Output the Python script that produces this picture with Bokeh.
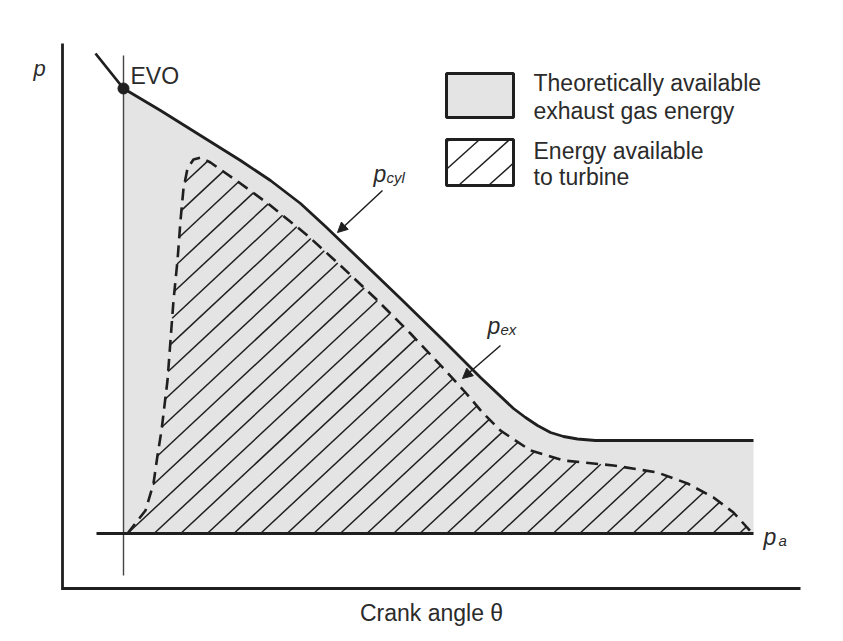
import numpy as np
from bokeh.plotting import figure
from bokeh.models import Range1d, Arrow, NormalHead
from bokeh.core.properties import value
from bokeh.embed import file_html
from bokeh.resources import INLINE

# ---------------- data (schematic, arbitrary units) ----------------
# crank angle theta (x) and pressure p (y)
theta_cyl = [33, 61, 98, 138, 178, 208, 238, 263, 288, 338, 381, 418, 451, 463, 475, 488, 501, 515, 533, 691]
p_cyl     = [535, 500, 478, 453, 428, 408, 385, 362, 338, 290, 248, 211, 180, 171, 163, 156, 152, 149.5, 148, 148]

theta_ex = [65, 83, 91, 95, 99, 102, 105, 108, 111, 115, 118, 121, 125, 131, 138, 148, 178, 208,
            245, 278, 313, 348, 383, 403, 420, 438, 468, 501, 551, 595, 625, 651, 671, 690]
p_ex     = [55, 78, 105, 133, 158, 183, 208, 248, 288, 328, 368, 400, 420, 429, 431, 426, 405, 383,
            353, 323, 290, 255, 218, 196, 176, 158, 138, 128, 123, 116, 105, 91, 76, 55]

theta_evo, p_evo = 61, 500          # exhaust valve opening
p_a = 55                            # ambient pressure level
theta_a_start, theta_a_end = 34, 691
theta_evo_line = [13, 533]          # extent of EVO marker line (p)
axis_x = [0, 0, 738]
axis_y = [545, 0, 0]

legend_labels = [["Theoretically available", "exhaust gas energy"],
                 ["Energy available", "to turbine"]]

INK = "#1f1f1f"
TXT = "#2b2b2b"
GRAY = "#e4e4e4"
FONT = value("Liberation Sans")
FS = "23px"


def hatch_segments(px, py, angle_deg, spacing, x_ref, y_ref):
    a = np.radians(angle_deg)
    d = np.array([np.cos(a), np.sin(a)])
    n = np.array([np.sin(a), -np.cos(a)])
    P = np.column_stack([px, py]).astype(float)
    Q = np.roll(P, -1, axis=0)
    s1, s2 = P @ n, Q @ n
    s_ref = n @ np.array([x_ref, y_ref], dtype=float)
    xs, ys = [], []
    for k in range(-80, 80):
        c = s_ref + k * spacing * n[0]
        m = (s1 - c) * (s2 - c) < 0
        if not m.any():
            continue
        t = (c - s1[m]) / (s2[m] - s1[m])
        pts = P[m] + t[:, None] * (Q[m] - P[m])
        pts = pts[np.argsort(pts @ d)]
        for i in range(0, len(pts) - 1, 2):
            xs.append([pts[i, 0], pts[i + 1, 0]])
            ys.append([pts[i, 1], pts[i + 1, 1]])
    return xs, ys


p = figure(width=843, height=641, x_range=Range1d(-62, 781), y_range=Range1d(-53, 588),
           x_axis_type=None, y_axis_type=None, toolbar_location=None,
           output_backend="svg", min_border=0, outline_line_color=None,
           background_fill_color="white", border_fill_color="white")
p.grid.visible = False

# gray area: theoretically available exhaust energy
gx = theta_cyl[1:] + [theta_a_end, theta_evo]
gy = p_cyl[1:] + [p_a, p_a]
p.patch(gx, gy, fill_color=GRAY, line_color=None)

# hatched area: energy available to turbine
hx, hy = hatch_segments(theta_ex, p_ex, 43, 26.6, theta_ex[0], p_a)
p.multi_line(hx, hy, line_color=INK, line_width=1.5)

# pressure curves
p.line(theta_ex, p_ex, line_color=INK, line_width=2.6, line_dash="12 7")
p.line(theta_cyl, p_cyl, line_color=INK, line_width=2.8, line_join="round")

# EVO marker line, ambient line and axes
p.line([theta_evo, theta_evo], theta_evo_line, line_color="#444444", line_width=1.4)
p.line([theta_a_start, theta_a_end], [p_a, p_a], line_color=INK, line_width=3)
p.line(axis_x, axis_y, line_color=INK, line_width=2.8, line_join="miter")
p.scatter([theta_evo], [p_evo], size=11, color=INK)

# texts
p.text([-23], [520], text=["p"], text_font=FONT, text_font_style="italic",
       text_font_size="22px", text_color=TXT, text_align="center", text_baseline="middle")
p.text([68], [513], text=["EVO"], text_font=FONT, text_font_size=FS,
       text_color=TXT, text_align="left", text_baseline="alphabetic")
p.text([369], [-24], text=["Crank angle \u03b8"], text_font=FONT, text_font_size=FS,
       text_color=TXT, text_align="center", text_baseline="alphabetic")

# subscripted labels
p.text([311, 425, 701], [415, 263, 52], text=["p", "p", "p"], text_font=FONT,
       text_font_style="italic", text_font_size="23px", text_color=TXT,
       text_align="left", text_baseline="alphabetic")
p.text([324, 438, 716], [411, 259, 48], text=["cyl", "ex", "a"], text_font=FONT,
       text_font_style="italic", text_font_size="15px", text_color=TXT,
       text_align="left", text_baseline="alphabetic")

# arrows
for (x0, y0, x1, y1) in [(320, 398, 275, 356), (438, 243, 400, 210)]:
    p.add_layout(Arrow(end=NormalHead(size=10, fill_color=INK, line_color=INK),
                       x_start=x0, y_start=y0, x_end=x1, y_end=y1,
                       line_color=INK, line_width=1.5))

# legend
box_l, box_r = 384, 451
box1 = (515, 471)
box2 = (449, 403)
lhx, lhy = hatch_segments([box_l, box_r, box_r, box_l], [box2[0], box2[0], box2[1], box2[1]],
                          42, 30, 396, box2[1])
p.multi_line(lhx, lhy, line_color=INK, line_width=1.5)
p.quad(left=[box_l], right=[box_r], top=[box1[0]], bottom=[box1[1]],
       fill_color=GRAY, line_color=INK, line_width=3)
p.quad(left=[box_l], right=[box_r], top=[box2[0]], bottom=[box2[1]],
       fill_color=None, line_color=INK, line_width=3)
p.text([471, 471, 471, 471], [506, 478, 438, 412],
       text=legend_labels[0] + legend_labels[1], text_font=FONT, text_font_size=FS,
       text_color=TXT, text_align="left", text_baseline="alphabetic")

open("out.html", "w").write(file_html(p, INLINE))
